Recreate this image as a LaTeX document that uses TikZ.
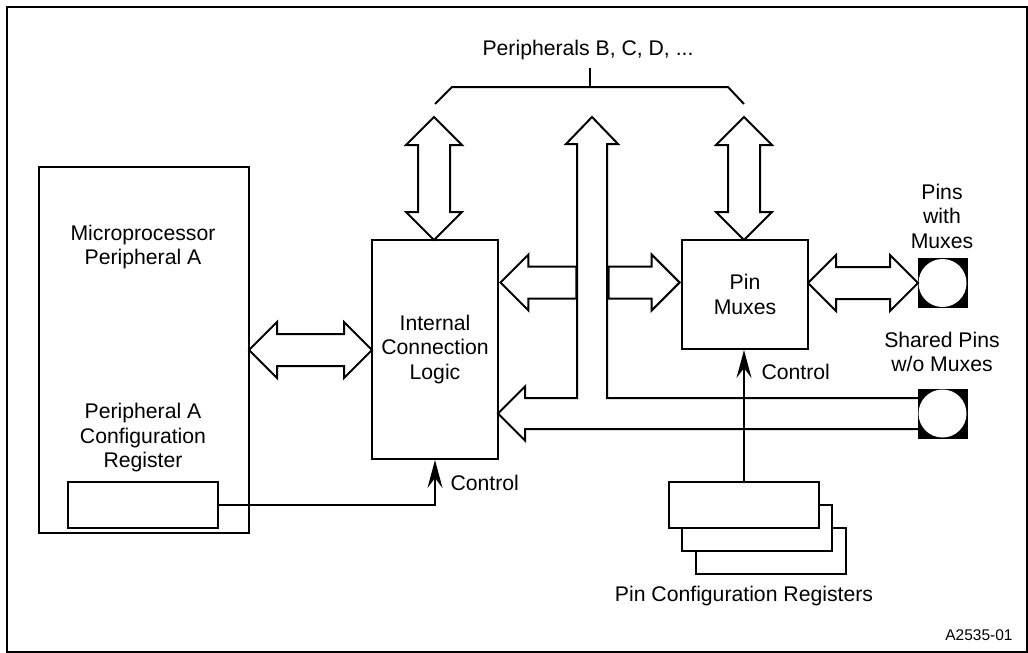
\documentclass[tikz,border=0pt]{standalone}
\usepackage{fontspec}
\setmainfont{Liberation Sans}
\usetikzlibrary{shapes.arrows,arrows.meta}

\tikzset{
  blk/.style={draw, line width=2pt, inner sep=0pt, fill=white},
  lbl/.style={align=center, font=\fontsize{21.2}{24.5}\selectfont},
  dblarrow/.style={draw, fill=white, line width=2pt, double arrow, inner xsep=0pt, inner ysep=15pt,
    minimum width=54pt, double arrow head extend=12pt, double arrow tip angle=90},
  sglarrow/.style={draw, fill=white, line width=2pt, single arrow, inner xsep=0pt, inner ysep=15pt,
    minimum width=54pt, single arrow head extend=12pt, single arrow tip angle=90},
  pinsq/.style={draw, fill=black, line width=1pt, minimum size=49pt, inner sep=0pt},
  ctl/.style={line width=2pt, -{Stealth[length=28pt,width=15pt,inset=10pt]}},
}

\begin{document}
\begin{tikzpicture}[x=1pt,y=-1pt]
  \useasboundingbox (0,0) rectangle (1028,653);
  \draw[line width=2pt] (7,7) rectangle (1027,652);

  % boxes
  \node[blk, minimum width=210pt, minimum height=366pt] (mpu) at (144,350) {};
  \node[lbl] (mpulbl) at (143,247) {Microprocessor\\Peripheral A};
  \node[lbl] (reglbl) at (143,438) {Peripheral A\\Configuration\\Register};
  \node[blk, minimum width=150pt, minimum height=46pt] (preg) at (143,505) {};

  \node[blk, lbl, minimum width=126pt, minimum height=219pt] (icl) at (435,349.5) {Internal\\Connection\\Logic};
  \node[blk, lbl, minimum width=126pt, minimum height=109pt] (pmux) at (745,294.5) {Pin\\Muxes};

  \node[blk, minimum width=150pt, minimum height=46pt] (cfg3) at (771,551) {};
  \node[blk, minimum width=150pt, minimum height=46pt] (cfg2) at (757,528) {};
  \node[blk, minimum width=150pt, minimum height=46pt] (cfg1) at (744,505) {};
  \node[lbl] (cfglbl) at (744,596) {Pin Configuration Registers};

  % pins
  \node[pinsq] (pin1) at (942.5,283) {};
  \fill[white] (pin1) circle (24pt);
  \node[pinsq] (pin2) at (942.5,413.5) {};
  \fill[white] (pin2) circle (24pt);
  \node[lbl] (pin1lbl) at (942,216) {Pins\\with\\Muxes};
  \node[lbl] (pin2lbl) at (942,352) {Shared Pins\\w/o Muxes};

  % peripherals bracket
  \node[lbl] (per) at (588,50) {Peripherals B, C, D, ...};
  \draw[line width=2pt] (435,104) -- (452,87) -- (728,87) -- (744,104);
  \draw[line width=2pt] (590,87) -- (590,68);

  % fat arrows
  \node[dblarrow, minimum height=123pt] (a1) at (310.5,350) {};
  \node[dblarrow, minimum height=123pt, rotate=90] (a2) at (434,178.5) {};
  \node[dblarrow, minimum height=123pt, rotate=90] (a3) at (744,178.5) {};
  \node[dblarrow, minimum height=110pt] (a4) at (863,283) {};
  \node[sglarrow, minimum height=76pt, rotate=180, anchor=tip] (b1) at (icl.east |- 0,282.5) {};
  \node[sglarrow, minimum height=71pt, anchor=tip] (b2) at (pmux.west |- 0,282.5) {};

  % shared bus
  \draw[line width=2pt] (918,398) -- (607,398) -- (607,144) -- (618,144) -- (592,117)
    -- (566,144) -- (577,144) -- (577,398) -- (525,398) -- (525,386.5) -- (498,413.5)
    -- (525,440.5) -- (525,429) -- (918,429);

  % control
  \draw[ctl] (preg.east) -| (icl.south);
  \node[lbl, anchor=west] (ctl1) at (447,483) {Control};
  \draw[ctl] (cfg1.north) -- (cfg1.north |- pmux.south);
  \node[lbl, anchor=west] (ctl2) at (758,372) {Control};

  \node[font=\fontsize{15.5}{18}\selectfont] (fig) at (979,635) {A2535-01};
\end{tikzpicture}
\end{document}
